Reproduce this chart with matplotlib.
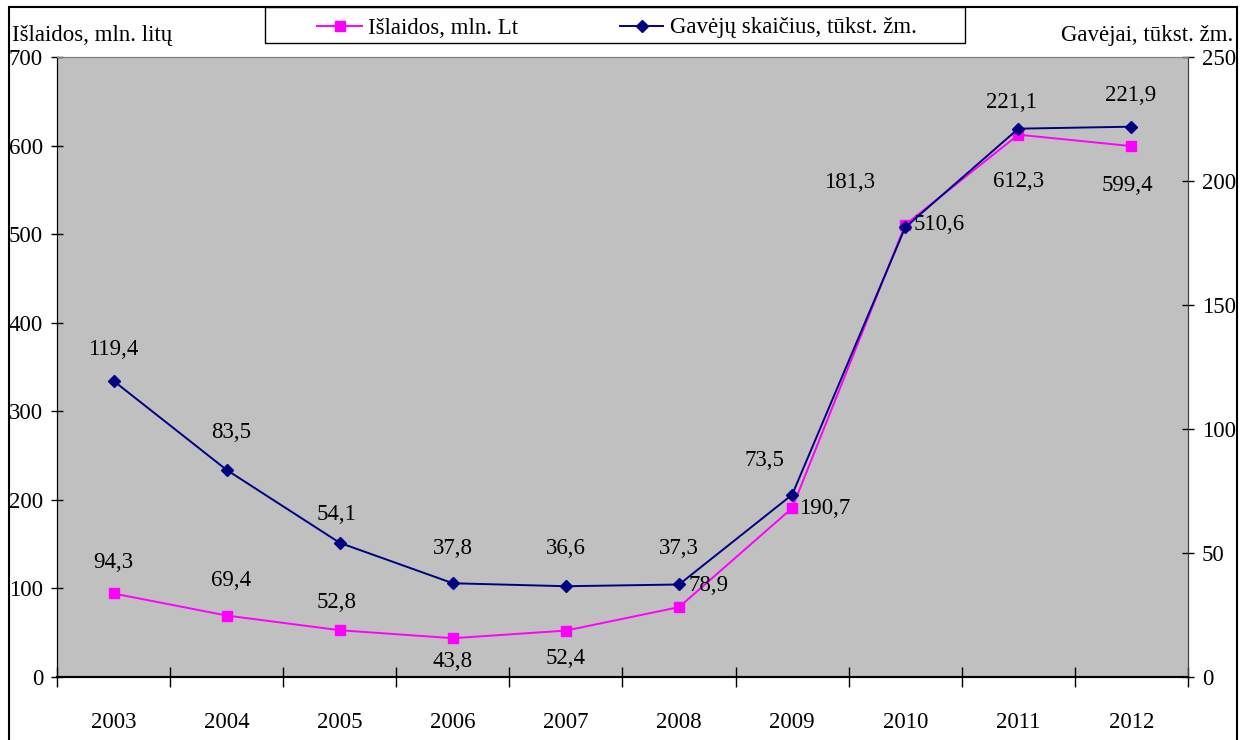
import numpy as np
import matplotlib
matplotlib.use("Agg")
import matplotlib.pyplot as plt
from matplotlib.patches import Rectangle
from matplotlib.lines import Line2D

plt.rcParams['font.family'] = ['Liberation Serif', 'DejaVu Serif']

years = ['2003', '2004', '2005', '2006', '2007', '2008', '2009', '2010', '2011', '2012']
islaidos = [94.3, 69.4, 52.8, 43.8, 52.4, 78.9, 190.7, 510.6, 612.3, 599.4]
gavejai = [119.4, 83.5, 54.1, 37.8, 36.6, 37.3, 73.5, 181.3, 221.1, 221.9]
series_names = ['Išlaidos, mln. Lt', 'Gavėjų skaičius, tūkst. žm.']

# label offsets in pixels (dx, dy)
off_isl = [(0, 31), (4, 35), (-3, 28), (0, -23), (0, -28), (30, 22), (33, 0), (34, 0), (0, -47), (-4, -39)]
off_gav = [(0, 31), (4, 37), (-3, 28), (0, 35), (0, 38), (0, 36), (-28, 34), (-56, 45), (-7, 26), (-1, 31)]

W, H = 1249, 740
fs = 16.5
pink = '#FF00FF'
navy = '#000080'

fig = plt.figure(figsize=(W / 100, H / 100), dpi=100)
ax = fig.add_axes([57 / W, 1 - 677 / H, (1188 - 57) / W, (677 - 57) / H])
ax2 = ax.twinx()

x = np.arange(len(years))
ax.set_facecolor('#C0C0C0')
ax.set_xlim(-0.5, len(years) - 0.5)
ax.set_ylim(0, 700)
ax2.set_ylim(0, 250)

ax.plot(x, islaidos, color=pink, lw=1.4, marker='s', ms=7.5, zorder=3)
ax2.plot(x, gavejai, color=navy, lw=1.4, marker='D', ms=6.5, zorder=4)

fmt = lambda v: ('%.1f' % v).replace('.', ',')
for i in range(len(years)):
    ax.annotate(fmt(islaidos[i]), (x[i], islaidos[i]), xytext=off_isl[i],
                textcoords='offset pixels', ha='center', va='center', fontsize=fs)
    ax2.annotate(fmt(gavejai[i]), (x[i], gavejai[i]), xytext=off_gav[i],
                 textcoords='offset pixels', ha='center', va='center', fontsize=fs)

ax.set_yticks(range(0, 701, 100))
ax2.set_yticks(range(0, 251, 50))
ax.set_xticks(x)
ax.set_xticklabels(years)
ax.set_xticks(np.arange(-0.5, len(years), 1), minor=True)
ax.tick_params(axis='x', which='major', length=0, pad=25, labelsize=fs)
ax.tick_params(axis='x', which='minor', direction='inout', length=14, width=1)
ax.tick_params(axis='y', direction='inout', length=8, width=1, pad=6, labelsize=fs)
ax2.tick_params(axis='y', direction='inout', length=8, width=1, pad=6, labelsize=fs)

for a in (ax, ax2):
    a.spines['top'].set_color('#808080')
    a.spines['left'].set_color('black')
    a.spines['bottom'].set_color('black')
    a.spines['right'].set_color('#404040')
    a.spines['bottom'].set_linewidth(1.5)

fig.text(12 / W, 1 - 35 / H, 'Išlaidos, mln. litų', fontsize=fs, ha='left', va='center')
fig.text(1233 / W, 1 - 35 / H, 'Gavėjai, tūkst. žm.', fontsize=fs, ha='right', va='center')

# legend drawn by hand to match the wide box
fig.patches.append(Rectangle((265 / W, 1 - 43 / H), (965 - 265) / W, 36 / H,
                             transform=fig.transFigure, facecolor='white',
                             edgecolor='black', lw=1))
ly = 1 - 26 / H
for (x0, x1, tx), col, mk, ms, name in zip([(317, 362, 368), (620, 663, 670)],
                                           [pink, navy], ['s', 'D'], [7.5, 6.5], series_names):
    fig.lines.append(Line2D([x0 / W, x1 / W], [ly, ly], transform=fig.transFigure,
                            color=col, lw=1.4))
    fig.lines.append(Line2D([(x0 + x1) / 2 / W], [ly], transform=fig.transFigure,
                            color=col, marker=mk, ms=ms, lw=0))
    fig.text(tx / W, ly - 2 / H, name, fontsize=fs, ha='left', va='center')

fig.patches.append(Rectangle((9 / W, -0.1), (1237 - 9) / W, 1.1 - 7 / H,
                             transform=fig.transFigure, fill=False, edgecolor='black',
                             lw=1.5, clip_on=False))

fig.savefig('out.png', dpi=100)
